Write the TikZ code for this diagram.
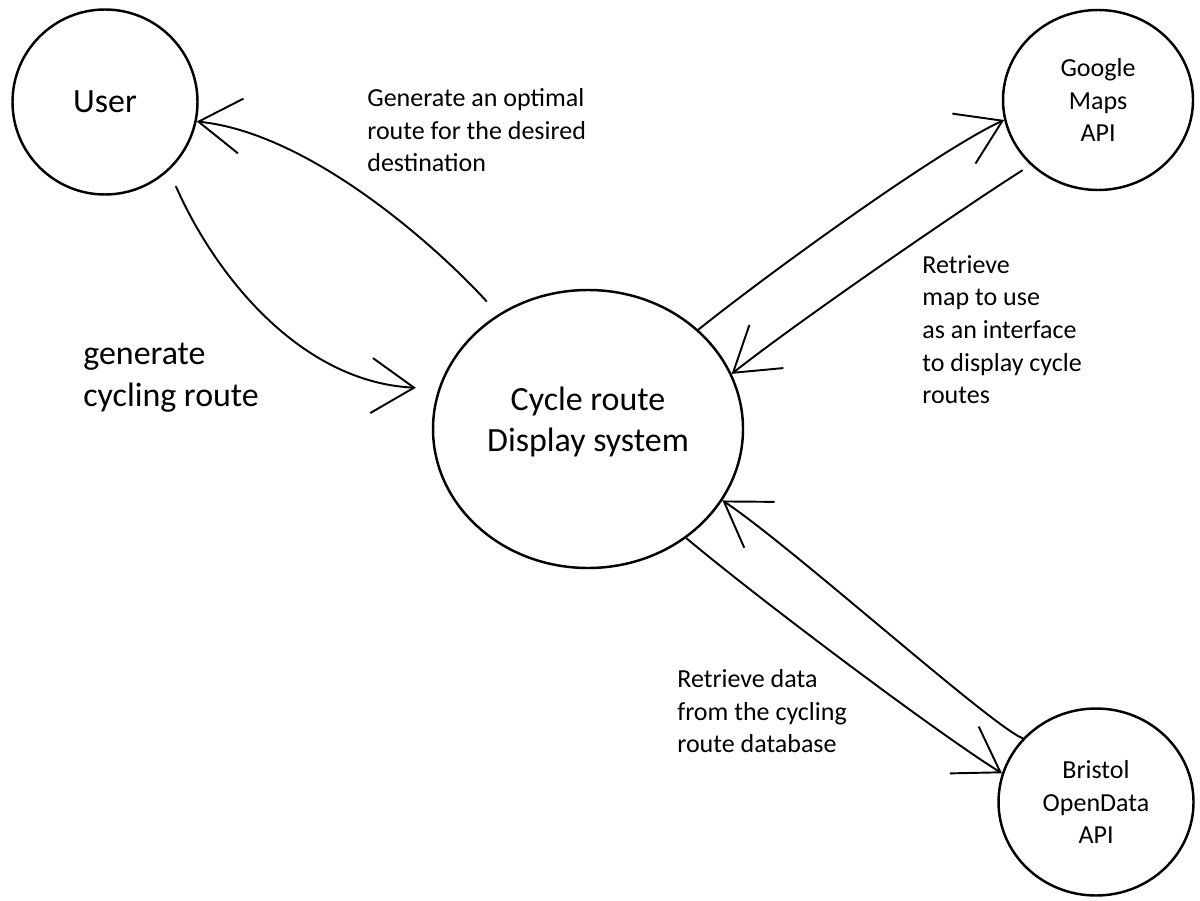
\documentclass[tikz,border=0pt]{standalone}
\usepackage{fontspec}
\setmainfont{Carlito}
\usetikzlibrary{shapes.geometric,arrows.meta}

\begin{document}
\begin{tikzpicture}[x=2cm,y=2cm,
  proc/.style={draw,ellipse,line width=1.4pt,inner sep=0pt,align=center},
  big/.style={font=\fontsize{19.3}{23.6}\selectfont},
  small/.style={font=\fontsize{14.8}{18.6}\selectfont},
  note/.style={anchor=north west,inner sep=0pt,align=left},
  flow/.style={line width=1.1pt,line cap=round,-{Straight Barb[length=8.5mm,width=11mm]}}]
  \useasboundingbox (0,0) rectangle (12,9);

  % processes
  \node[proc,big,minimum width=3.7cm,minimum height=3.7cm] at(1.05,7.98)(user){User};
  \node[proc,big,minimum width=6.2cm,minimum height=5.56cm,text depth=4mm] at(5.88,4.71)(main){Cycle route\\ Display system};
  \node[proc,small,minimum width=3.8cm,minimum height=3.6cm] at(10.98,8.00)(google){Google\\Maps\\API};
  \node[proc,small,minimum width=3.9cm,minimum height=3.74cm] at(10.96,0.98)(bristol){Bristol\\OpenData\\API};

  % labels
  \node[note,small] at(3.67,8.12)(optimal){Generate an optimal\\route for the desired\\destination};
  \node[note,big] at(0.83,5.57)(gen){generate\\cycling route};
  \node[note,small] at(9.22,6.45)(mapuse){Retrieve\\map to use\\as an interface\\to display cycle\\routes};
  \node[note,small] at(6.77,2.31)(datause){Retrieve data\\from the cycling\\route database};

  % flows
  \draw[flow,shorten <=3.5mm] (main.128) .. controls (4.37,6.53) and (3.10,7.67) .. (user.-12);
  \draw[flow,shorten <=3.5mm,shorten >=4.5mm] (user.-47) .. controls (2.15,6.25) and (3.00,5.18) .. (main.165);
  \draw[flow] (main.42) .. controls (7.60,6.20) and (9.35,7.48) .. (google.192);
  \draw[flow,shorten <=2mm] (google.224) .. controls (9.60,6.90) and (8.00,5.80) .. (main.21);
  \draw[flow] (bristol.139) .. controls (9.90,1.75) and (7.90,3.55) .. (main.-28);
  \draw[flow] (main.-48) .. controls (7.60,3.00) and (9.40,1.65) .. (bristol.163);

\end{tikzpicture}
\end{document}
